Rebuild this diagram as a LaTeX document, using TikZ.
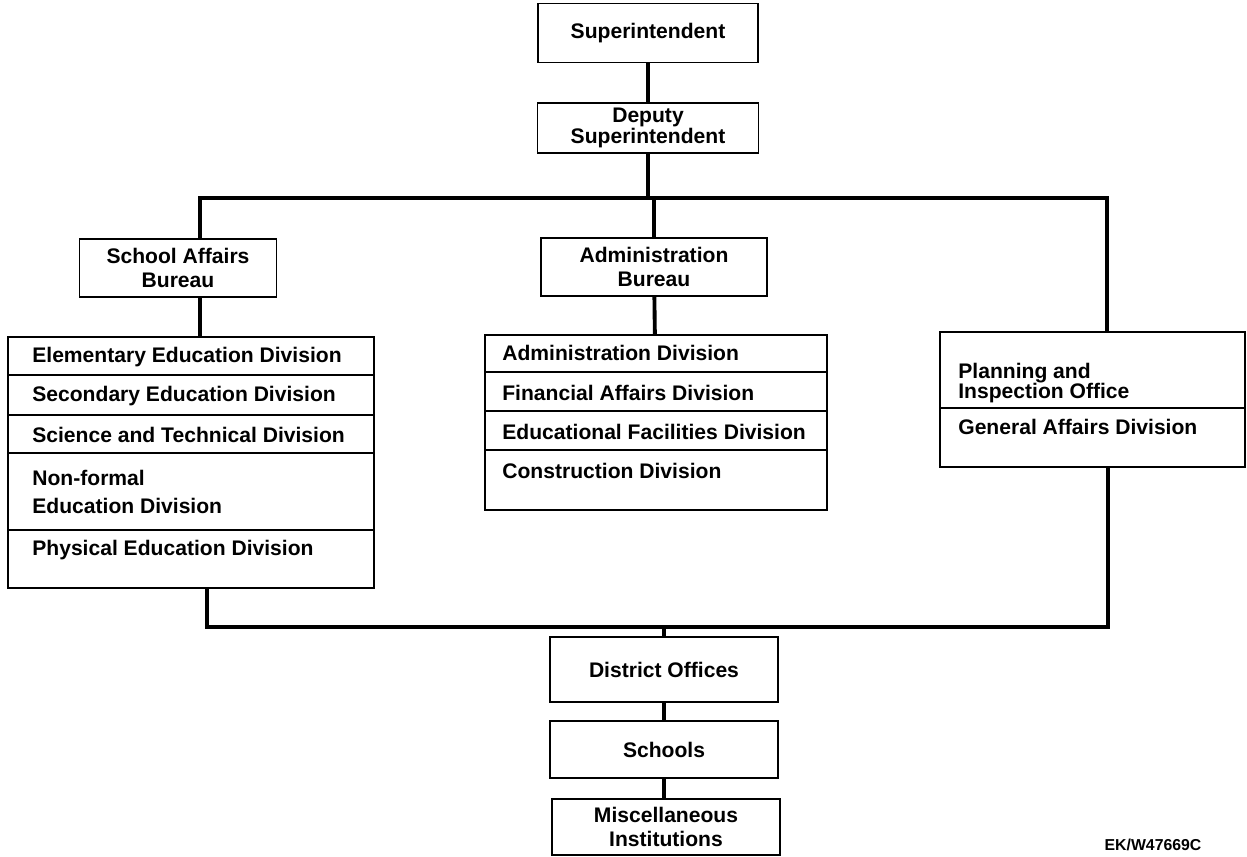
\documentclass[tikz,border=0pt]{standalone}
\usepackage{fontspec}
\setmainfont{Liberation Sans}
\usetikzlibrary{positioning}
\tikzset{>=stealth,
  box/.style={draw,line width=1.1pt,align=center,inner sep=1pt,
    font=\fontsize{12}{14}\selectfont\bfseries},
  row/.style={anchor=west,align=left,inner sep=0pt,
    font=\fontsize{12}{14}\selectfont\bfseries},
  link/.style={line width=2.2pt},
  sep/.style={line width=0.8pt}}

\begin{document}
\begin{tikzpicture}[x=0.02cm,y=-0.02cm]
\useasboundingbox (0,0) rectangle (1247,857);
\node[box,minimum width=4.4cm,minimum height=1.18cm] (sup) at (648,33) {Superintendent};
\node[box,minimum width=4.42cm,minimum height=1cm] (dep) at (648,128) {Deputy\\[-2.5pt]Superintendent};
\node[box,minimum width=3.94cm,minimum height=1.16cm] (sab) at (178,268) {School Affairs\\Bureau};
\node[box,minimum width=4.52cm,minimum height=1.16cm] (adb) at (654,267) {Administration\\Bureau};
% division lists
\node[box,minimum width=7.32cm,minimum height=5.02cm] (sadiv) at (191,462.5) {};
\node[box,minimum width=6.84cm,minimum height=3.5cm] (addiv) at (656,422.5) {};
\node[box,minimum width=6.1cm,minimum height=2.7cm] (plan) at (1092.5,399.5) {};
\node[row] (elem) at (32,357) {Elementary Education Division};
\node[row] (secd) at (32,396) {Secondary Education Division};
\node[row] (scit) at (32,435) {Science and Technical Division};
\node[row] (nonf) at (32,492) {Non-formal\\[2.4pt]Education Division};
\node[row] (phys) at (32,550) {Physical Education Division};
\draw[sep] (8,375) -- (374,375);
\draw[sep] (8,415) -- (374,415);
\draw[sep] (8,453) -- (374,453);
\draw[sep] (8,530) -- (374,530);
\node[row] (admd) at (502,353) {Administration Division};
\node[row] (find) at (502,393) {Financial Affairs Division};
\node[row] (facd) at (502,432) {Educational Facilities Division};
\node[row] (cond) at (502,471) {Construction Division};
\draw[sep] (485,372) -- (827,372);
\draw[sep] (485,411) -- (827,411);
\draw[sep] (485,450) -- (827,450);
\node[row] (pio) at (958,383) {Planning and\\[-3pt]Inspection Office};
\node[row] (gad) at (958,427) {General Affairs Division};
\draw[sep] (940,408) -- (1245,408);
% lower chain
\node[box,minimum width=4.56cm,minimum height=1.3cm] (dist) at (664,669.5) {District Offices};
\node[box,minimum width=4.56cm,minimum height=1.14cm] (schl) at (664,749.5) {Schools};
\node[box,minimum width=4.56cm,minimum height=1.12cm] (misc) at (666,827) {Miscellaneous\\Institutions};
\node[font=\fontsize{9}{10}\selectfont\bfseries,inner sep=0pt] (code) at (1153,845) {EK/W47669C};
% connectors
\coordinate (busL) at (200,198);
\coordinate (busR) at (1107,198);
\coordinate (botL) at (207,627);
\coordinate (botR) at (1108,627);
\draw[link] (sup) -- (dep);
\draw[link] (dep) -- (dep |- busL);
\draw[link] (busL |- sab.north) -- (busL) -- (busR) -- (busR |- plan.north);
\draw[link] (adb) -- (adb |- busL);
\draw[link] (busL |- sab.south) -- (busL |- sadiv.north);
\draw[link] (adb) -- (addiv);
\draw[link] (botL |- sadiv.south) -- (botL) -- (botR) -- (botR |- plan.south);
\draw[link] (dist) -- (dist |- botL);
\draw[link] (dist) -- (schl);
\draw[link] (schl) -- (schl |- misc.north);
\end{tikzpicture}
\end{document}
